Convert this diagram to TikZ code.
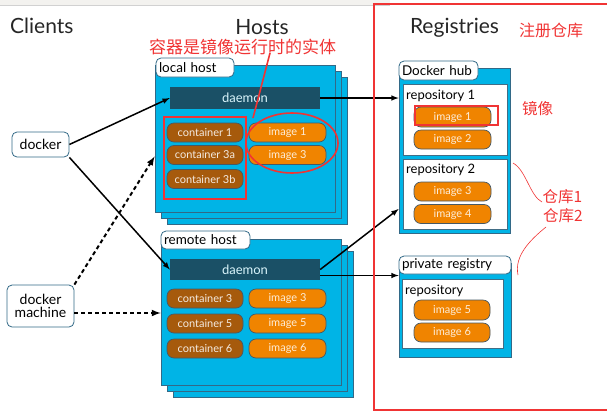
\documentclass[tikz,border=0pt]{standalone}
\usepackage{fontspec}
\setmainfont{Lato}
\newfontfamily\cjk{Noto Sans CJK SC}
\usepackage{tikz}

\definecolor{hostblue}{RGB}{0,180,230}
\definecolor{edgeblue}{RGB}{50,105,135}
\definecolor{daemoncol}{RGB}{26,80,102}
\definecolor{contcol}{RGB}{166,90,12}
\definecolor{imgcol}{RGB}{240,132,0}
\definecolor{pilledge}{RGB}{70,88,100}
\definecolor{notered}{RGB}{240,52,52}
\definecolor{stripgray}{RGB}{243,242,239}

\begin{document}
\begin{tikzpicture}[x=1pt, y=-1pt,
  hostlayer/.style={draw=edgeblue, fill=hostblue, line width=0.8pt},
  hostbox/.style={hostlayer, inner sep=0pt},
  tag/.style={draw=edgeblue, fill=white, rounded corners=5pt, line width=0.8pt,
    inner xsep=3pt, inner ysep=0pt, minimum height=19pt, align=left,
    font=\fontsize{13.5}{14}\selectfont},
  daemonbar/.style={fill=daemoncol, text=white!85!hostblue, minimum width=150pt,
    minimum height=22pt, inner sep=0pt, font=\fontsize{13}{14}\selectfont},
  cont/.style={draw=pilledge, fill=contcol, text=white!88!contcol, rounded corners=7pt,
    line width=0.7pt, minimum width=76pt, minimum height=19pt, inner sep=0pt,
    font=\fontsize{11}{12}\selectfont},
  img/.style={cont, fill=imgcol, text=white!85!imgcol, minimum width=77pt},
  repo/.style={draw=edgeblue!80!gray, fill=white, line width=0.8pt, inner sep=0pt},
  repolabel/.style={anchor=west, inner sep=0pt, font=\fontsize{13}{14}\selectfont},
  client/.style={draw=edgeblue, fill=white, rounded corners=5pt, line width=0.8pt,
    inner sep=0pt, align=center, font=\fontsize{14}{16}\selectfont},
  title/.style={anchor=base, inner sep=0pt, font=\fontsize{21}{22}\selectfont, text=black!85},
  link/.style={line width=1.5pt, -latex},
  dashlink/.style={line width=2pt, dash pattern=on 4pt off 3pt, -latex},
  note/.style={text=notered, inner sep=0pt, font=\cjk\fontsize{15.5}{16}\selectfont},
  redmark/.style={draw=notered, line width=2.2pt}]

\useasboundingbox (0,0) rectangle (607,413);
\fill [stripgray] (0,0) rectangle (390,5);
\draw [black!18, line width=0.8pt] (0,5) -- (390,5);

% titles
\node [title, anchor=base west] (clients) at (10,33) {Clients};
\node [title] (hosts) at (262,34) {Hosts};
\node [title] (registries) at (454.5,33) {Registries};

% clients
\node [client, minimum width=57pt, minimum height=25pt] (docker) at (40.5,144.5) {docker};
\node [client, minimum width=67pt, minimum height=42pt] (dm) at (40.5,306) {docker\\[-3pt]machine};

% local host
\foreach \d in {12,6}
  \draw [hostlayer] (155+\d,65+\d) rectangle ++(180,147);
\node [hostbox, minimum width=180pt, minimum height=147pt] (lhost) at (245,138.5) {};
\node [tag, text width=72pt] (ltag) at (195,67.5) {local host};
\node [daemonbar] (ldaemon) at (245,98) {daemon};
\node [cont] (c1) at (205,132.5) {container 1};
\node [cont] (c3a) at (205,155) {container 3a};
\node [cont] (c3b) at (205,179) {container 3b};
\node [img] (li1) at (287.5,132.5) {image 1};
\node [img] (li3) at (287.5,155) {image 3};

% remote host
\foreach \d in {12,6}
  \draw [hostlayer] (161+\d,239+\d) rectangle ++(180,146);
\node [hostbox, minimum width=180pt, minimum height=146pt] (rhost) at (251,312) {};
\node [tag, text width=83pt, minimum height=18pt] (rtag) at (205.5,240) {remote host};
\node [daemonbar, minimum height=21pt] (rdaemon) at (245,269.5) {daemon};
\node [cont] (c3) at (205,298.5) {container 3};
\node [cont] (c5) at (205,323.5) {container 5};
\node [cont] (c6) at (205,348.5) {container 6};
\node [img] (ri3) at (287.5,298.5) {image 3};
\node [img] (ri5) at (287.5,323.5) {image 5};
\node [img] (ri6) at (287.5,348.5) {image 6};

% registries
\node [hostbox, minimum width=111pt, minimum height=165pt] (hub) at (454.5,150.5) {};
\node [tag, text width=73pt] (hubtag) at (438.5,70.5) {Docker hub};
\node [repo, minimum width=104pt, minimum height=71pt] (repo1) at (455,119.5) {};
\node [repolabel] (r1lbl) at (406,96) {repository 1};
\node [img, minimum height=20pt] (hi1) at (452.5,117) {image 1};
\node [img] (hi2) at (452.5,139.5) {image 2};
\node [repo, minimum width=104pt, minimum height=70pt] (repo2) at (455,194) {};
\node [repolabel] (r2lbl) at (406,170) {repository 2};
\node [img] (hi3) at (452.5,191.5) {image 3};
\node [img] (hi4) at (452.5,214) {image 4};

\node [hostbox, minimum width=112pt, minimum height=94pt] (priv) at (455,310) {};
\node [tag, text width=106pt, minimum height=18pt] (privtag) at (455,265) {private registry};
\node [repo, minimum width=101pt, minimum height=69pt] (prepo) at (452.5,313.5) {};
\node [repolabel] (prlbl) at (405,291) {repository};
\node [img, minimum width=76pt, minimum height=20pt] (pi5) at (452,310) {image 5};
\node [img, minimum width=76pt] (pi6) at (452,332.5) {image 6};

% connectors
\draw [link] (docker.east) -- (ldaemon.west);
\draw [link] (docker.south east) -- (rdaemon.west);
\draw [dashlink] (dm.north east) -- ([yshift=-18pt]lhost.west);
\draw [dashlink] ([yshift=-7pt]dm.east) -- ([yshift=-7pt]dm.east -| rhost.west);
\draw [link] (ldaemon.east) -- (ldaemon.east -| hub.west);
\draw [link] (rdaemon.east) -- ([shift={(-4pt,-15pt)}]repo2.west);
\draw [link] ([yshift=-6pt]rdaemon.east) -- ([yshift=-6pt]rdaemon.east -| priv.west);

% red notes
\draw [redmark] (374,4) rectangle (609,410);
\draw [redmark] (164,117) rectangle (246,199);
\draw [redmark, line width=1.6pt] (292,143) ellipse (46 and 30);
\draw [redmark, line width=1.6pt] (270,53) -- (253,118);
\draw [redmark] (415,106) rectangle (498,125);
\draw [notered, line width=0.6pt] (513,163) .. controls (526,170) and (530,196) .. (542,202);
\draw [notered, line width=0.6pt] (546,227) .. controls (530,240) and (514,256) .. (518,275);
\node [note, anchor=base, font=\cjk\fontsize{17}{18}\selectfont] (runtime) at (242.5,53) {容器是镜像运行时的实体};
\node [note, font=\cjk\fontsize{16}{17}\selectfont] (regnote) at (551,30) {注册仓库};
\node [note] (imgnote) at (537.5,109) {镜像};
\node [note] (repo1note) at (562.5,197) {仓库1};
\node [note] (repo2note) at (563,216) {仓库2};
\end{tikzpicture}
\end{document}
